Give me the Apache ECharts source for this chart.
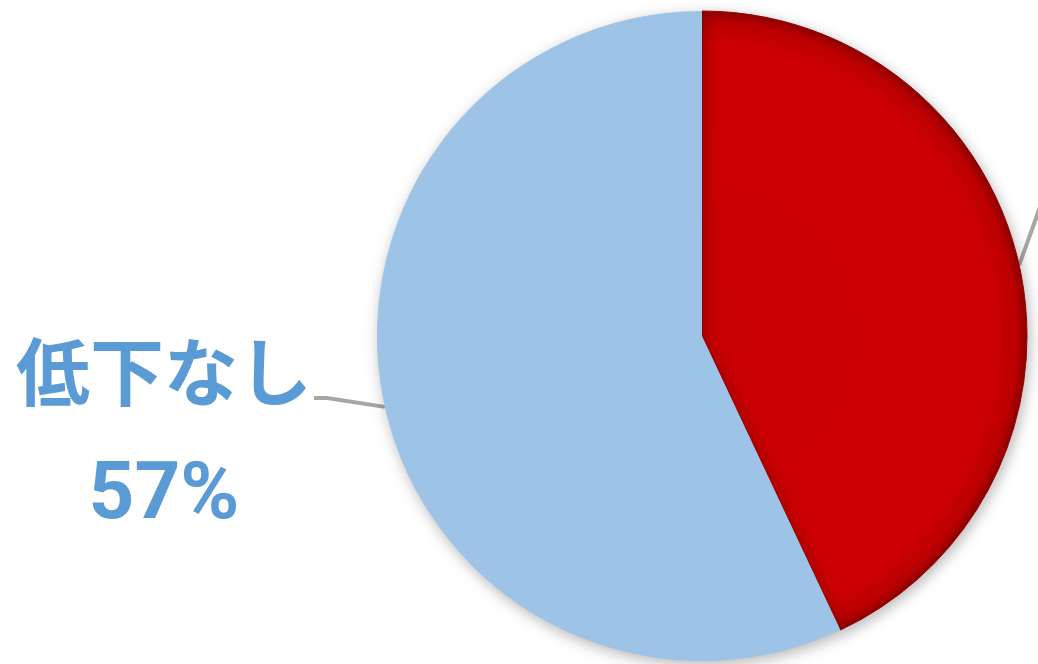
<!DOCTYPE html>
<html>
<head>
<meta charset="utf-8">
<script src="https://cdn.jsdelivr.net/npm/echarts@6/dist/echarts.min.js"></script>
<style>
html,body{margin:0;padding:0;background:#fff;overflow:hidden;}
#chart{width:1038px;height:664px;}
</style>
</head>
<body>
<div id="chart"></div>
<script>
const categories = ['低下あり', '低下なし'];
const values = [43, 57];
const sliceColors = ['#CC0000', '#9DC3E6'];
const labelColors = ['#C00000', '#5B9BD5'];

const chart = echarts.init(document.getElementById('chart'), null, {renderer: 'canvas'});

const redFill = new echarts.graphic.RadialGradient(702, 336, 325, [
  {offset: 0, color: '#C90000'},
  {offset: 0.9, color: '#CC0000'},
  {offset: 0.97, color: '#BA0000'},
  {offset: 1, color: '#8E0000'}
], true);

const data = categories.map((name, i) => ({
  name: name,
  value: values[i],
  itemStyle: i === 0
    ? {color: redFill, borderColor: '#9A0000', borderWidth: 1}
    : {color: sliceColors[i]},
  label: {color: labelColors[i]}
}));

chart.setOption({
  animation: false,
  backgroundColor: '#ffffff',
  series: [{
    type: 'pie',
    center: [702, 336],
    radius: 325,
    startAngle: 90,
    clockwise: true,
    data: data,
    itemStyle: {
      shadowBlur: 14,
      shadowColor: 'rgba(0,0,0,0.28)',
      shadowOffsetX: 2,
      shadowOffsetY: 4
    },
    label: {
      show: true,
      position: 'outside',
      width: 300,
      padding: [71, 0, 0, 0],
      backgroundColor: 'rgba(255,255,255,0)',
      formatter: p => '{n|' + p.name + '}\n{v|' + Math.round(p.percent) + '%}',
      rich: {
        n: {fontFamily: 'Noto Sans CJK JP', fontWeight: 'bold', fontSize: 74, lineHeight: 128, align: 'center'},
        v: {fontFamily: 'Roboto', fontWeight: 'bold', fontSize: 80, lineHeight: 123, align: 'center'}
      }
    },
    labelLine: {
      show: true,
      length: 10,
      length2: 13,
      lineStyle: {color: '#A6A6A6', width: 4}
    },
    labelLayout: function (params) {
      if (params.dataIndex === 1) {
        return {x: 314, y: 398, align: 'right', verticalAlign: 'middle'};
      }
      return {x: 1075, y: 146, align: 'left', verticalAlign: 'middle'};
    }
  }]
});
</script>
</body>
</html>
